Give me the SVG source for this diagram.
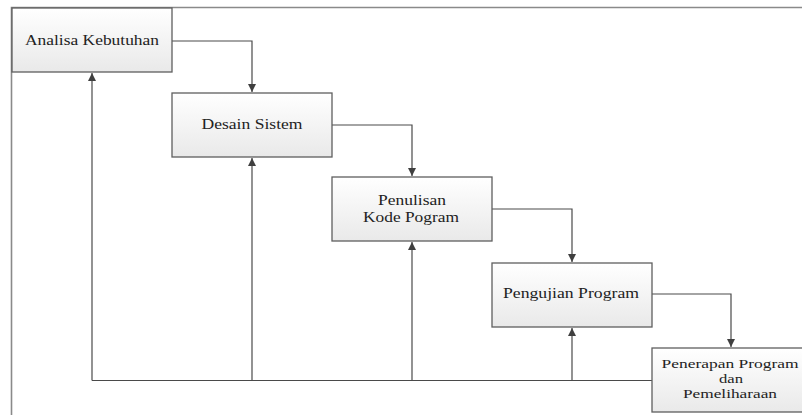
<svg xmlns="http://www.w3.org/2000/svg" width="802" height="415" viewBox="0 0 802 415">
<defs>
<linearGradient id="boxfill" x1="0" y1="0" x2="0" y2="1">
<stop offset="0" stop-color="#ffffff"/>
<stop offset="1" stop-color="#e9e9e9"/>
</linearGradient>
<marker id="arr" viewBox="0 0 10 10" refX="10" refY="5" markerWidth="8" markerHeight="8" markerUnits="userSpaceOnUse" orient="auto">
<path d="M0,0 L10,5 L0,10 Z" fill="#3f3f3f"/>
</marker>
<style>
.box{fill:url(#boxfill);stroke:#5f5f5f;stroke-width:1.3}
.lbl{font-family:"Liberation Serif","Times New Roman",serif;font-size:15px;fill:#222;text-anchor:middle}
.sm{font-size:13px}
.con{fill:none;stroke:#4a4a4a;stroke-width:1.2}
.frame{fill:none;stroke:#8a8a8a;stroke-width:1.6}
</style>
</defs>
<rect width="802" height="415" fill="#ffffff"/>
<path class="frame" d="M11.5,415 L11.5,7.5 L802,7.5"/>
<g id="connectors">
<path class="con" d="M172,41 H252 V92" marker-end="url(#arr)"/>
<path class="con" d="M332,125 H412 V176" marker-end="url(#arr)"/>
<path class="con" d="M492,209 H572 V262" marker-end="url(#arr)"/>
<path class="con" d="M652,294 H731 V347" marker-end="url(#arr)"/>
<path class="con" d="M652,380.5 H92"/>
<path class="con" d="M92,380.5 V73" marker-end="url(#arr)"/>
<path class="con" d="M252,380.5 V158" marker-end="url(#arr)"/>
<path class="con" d="M412,380.5 V242" marker-end="url(#arr)"/>
<path class="con" d="M572,380.5 V328" marker-end="url(#arr)"/>
</g>
<g id="analisa">
<rect class="box" x="12" y="8" width="160" height="64"/>
<text class="lbl" x="92" y="45" textLength="134" lengthAdjust="spacingAndGlyphs">Analisa Kebutuhan</text>
</g>
<g id="desain">
<rect class="box" x="172" y="93" width="160" height="64"/>
<text class="lbl" x="252" y="129" textLength="101" lengthAdjust="spacingAndGlyphs">Desain Sistem</text>
</g>
<g id="penulisan">
<rect class="box" x="332" y="177" width="160" height="64"/>
<text class="lbl" x="412" y="205" textLength="68" lengthAdjust="spacingAndGlyphs">Penulisan</text>
<text class="lbl" x="411" y="222" textLength="96" lengthAdjust="spacingAndGlyphs">Kode Pogram</text>
</g>
<g id="pengujian">
<rect class="box" x="492" y="263" width="160" height="64"/>
<text class="lbl" x="571" y="298" textLength="136" lengthAdjust="spacingAndGlyphs">Pengujian Program</text>
</g>
<g id="penerapan">
<rect class="box" x="652" y="348" width="160" height="64"/>
<text class="lbl sm" x="730" y="368" textLength="137" lengthAdjust="spacingAndGlyphs">Penerapan Program</text>
<text class="lbl sm" x="731" y="383" textLength="24" lengthAdjust="spacingAndGlyphs">dan</text>
<text class="lbl sm" x="730" y="398" textLength="94" lengthAdjust="spacingAndGlyphs">Pemeliharaan</text>
</g>
</svg>
